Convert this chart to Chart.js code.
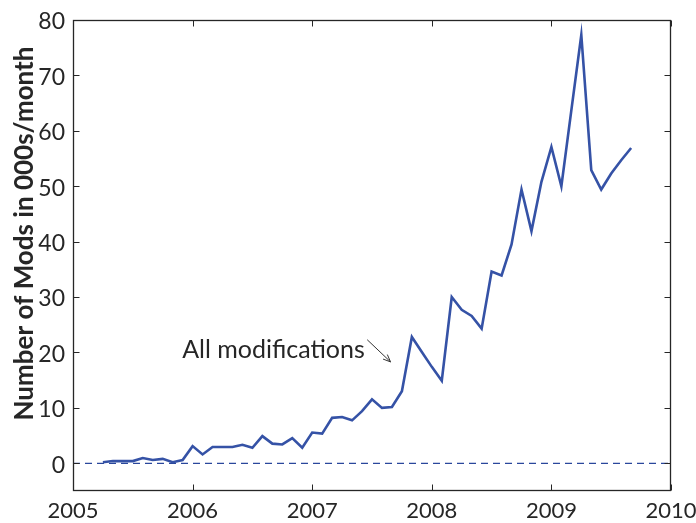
<!DOCTYPE html>
<html>
<head>
<meta charset="utf-8">
<script src="https://cdn.jsdelivr.net/npm/chart.js@4.4.0/dist/chart.umd.min.js"></script>
<style>
  html, body { margin: 0; padding: 0; background: #fff; }
  #c { display: block; }
</style>
</head>
<body>
<canvas id="c" width="696" height="523"></canvas>
<script>
// Monthly modification counts (thousands per month)
const months = [
  '2005-04','2005-05','2005-06','2005-07','2005-08','2005-09','2005-10','2005-11','2005-12',
  '2006-01','2006-02','2006-03','2006-04','2006-05','2006-06','2006-07','2006-08','2006-09','2006-10','2006-11','2006-12',
  '2007-01','2007-02','2007-03','2007-04','2007-05','2007-06','2007-07','2007-08','2007-09','2007-10','2007-11','2007-12',
  '2008-01','2008-02','2008-03','2008-04','2008-05','2008-06','2008-07','2008-08','2008-09','2008-10','2008-11','2008-12',
  '2009-01','2009-02','2009-03','2009-04','2009-05','2009-06','2009-07','2009-08','2009-09'
];
const allMods = [
  0.2, 0.4, 0.4, 0.4, 0.95, 0.6, 0.8, 0.2, 0.6,
  3.1, 1.6, 2.95, 2.95, 2.95, 3.35, 2.8, 4.9, 3.55, 3.4, 4.55, 2.8,
  5.55, 5.35, 8.2, 8.35, 7.75, 9.4, 11.55, 10.0, 10.15, 13.0, 22.8, 20.1,
  17.4, 14.9, 30.0, 27.7, 26.6, 24.3, 34.6, 33.9, 39.5, 49.4, 41.9, 50.8,
  57.1, 50.0, 63.7, 77.3, 52.9, 49.4, 52.3, 54.7, 56.9
];
const yearTicks = [2005, 2006, 2007, 2008, 2009, 2010];
const valueTicks = [0, 10, 20, 30, 40, 50, 60, 70, 80];
const zeroLineYears = [2005, 2010];
const zeroLineValues = [0, 0];

const FONT = 'Lato, "DejaVu Sans", sans-serif';
const INK = '#262626';

// 'YYYY-MM' -> fractional year at the start of the month
function toYear(m) {
  const [y, mo] = m.split('-').map(Number);
  return y + (mo - 1) / 12;
}

// Frame, inward ticks on all four sides, y title and the arrow annotation
const framePlugin = {
  id: 'frame',
  afterDraw(chart) {
    const { ctx, scales } = chart;
    const xs = scales.x, ys = scales.y;
    const L = Math.round(xs.getPixelForValue(xs.min)) + 0.5;
    const R = Math.round(xs.getPixelForValue(xs.max)) - 0.5;
    const T = Math.round(ys.getPixelForValue(ys.max)) + 0.5;
    const B = Math.round(ys.getPixelForValue(ys.min)) - 0.5;
    const tick = 6;
    ctx.save();
    ctx.strokeStyle = INK;
    ctx.lineWidth = 1.3;
    ctx.strokeRect(L, T, R - L, B - T);
    ctx.lineWidth = 1;
    ctx.beginPath();
    yearTicks.forEach(v => {
      const px = Math.round(xs.getPixelForValue(v)) + 0.5;
      ctx.moveTo(px, B); ctx.lineTo(px, B - tick);
      ctx.moveTo(px, T); ctx.lineTo(px, T + tick);
    });
    valueTicks.forEach(v => {
      const py = Math.round(ys.getPixelForValue(v)) + 0.5;
      ctx.moveTo(L, py); ctx.lineTo(L + tick, py);
      ctx.moveTo(R, py); ctx.lineTo(R - tick, py);
    });
    ctx.stroke();

    // y axis title
    ctx.save();
    ctx.translate(33, (T + B) / 2 - 22);
    ctx.rotate(-Math.PI / 2);
    ctx.fillStyle = INK;
    ctx.font = 'bold 26px ' + FONT;
    ctx.textAlign = 'center';
    ctx.textBaseline = 'alphabetic';
    ctx.fillText('Number of Mods in 000s/month', 0, 0);
    ctx.restore();

    // annotation text and arrow
    const tx = xs.getPixelForValue(2007.44), ty = ys.getPixelForValue(19.0);
    ctx.fillStyle = INK;
    ctx.font = '25px ' + FONT;
    ctx.textAlign = 'right';
    ctx.textBaseline = 'alphabetic';
    ctx.fillText('All modifications', tx, ty);

    const x0 = xs.getPixelForValue(2007.46), y0 = ys.getPixelForValue(22.3);
    const x1 = xs.getPixelForValue(2007.655), y1 = ys.getPixelForValue(18.3);
    ctx.strokeStyle = '#333';
    ctx.lineWidth = 1;
    ctx.beginPath();
    ctx.moveTo(x0, y0); ctx.lineTo(x1, y1);
    const ang = Math.atan2(y1 - y0, x1 - x0), h = 8;
    ctx.moveTo(x1, y1);
    ctx.lineTo(x1 - h * Math.cos(ang - 0.4), y1 - h * Math.sin(ang - 0.4));
    ctx.moveTo(x1, y1);
    ctx.lineTo(x1 - h * Math.cos(ang + 0.4), y1 - h * Math.sin(ang + 0.4));
    ctx.stroke();
    ctx.restore();
  }
};

new Chart(document.getElementById('c'), {
  type: 'line',
  data: {
    datasets: [
      {
        label: 'All modifications',
        data: months.map((m, i) => ({ x: toYear(m), y: allMods[i] })),
        borderColor: '#3552a6',
        borderWidth: 2.6,
        pointRadius: 0,
        tension: 0,
        fill: false,
        order: 0
      },
      {
        label: 'zero',
        data: zeroLineYears.map((x, i) => ({ x, y: zeroLineValues[i] })),
        borderColor: '#2a479c',
        borderWidth: 1.2,
        borderDash: [7, 5],
        pointRadius: 0,
        fill: false,
        order: 1
      }
    ]
  },
  options: {
    responsive: false,
    animation: false,
    devicePixelRatio: 1,
    layout: { padding: { top: 20, right: 0, left: 0, bottom: 0 } },
    plugins: { legend: { display: false }, tooltip: { enabled: false } },
    scales: {
      x: {
        type: 'linear',
        min: 2005,
        max: 2010,
        afterBuildTicks: s => { s.ticks = yearTicks.map(v => ({ value: v })); },
        afterFit: s => { s.height = 32; s.paddingLeft = 0; s.paddingRight = 25; },
        grid: { display: false, drawTicks: false },
        border: { display: false },
        ticks: {
          color: INK,
          font: { family: FONT, size: 22 },
          padding: 7,
          maxRotation: 0,
          callback: v => String(v)
        }
      },
      y: {
        min: -5,
        max: 80,
        afterBuildTicks: s => { s.ticks = valueTicks.map(v => ({ value: v })); },
        afterFit: s => { s.width = 73; s.paddingTop = 0; s.paddingBottom = 0; },
        grid: { display: false, drawTicks: false },
        border: { display: false },
        ticks: {
          color: INK,
          font: { family: FONT, size: 23 },
          padding: 8,
          labelOffset: 2,
          callback: v => String(v)
        }
      }
    }
  },
  plugins: [framePlugin]
});
</script>
</body>
</html>
